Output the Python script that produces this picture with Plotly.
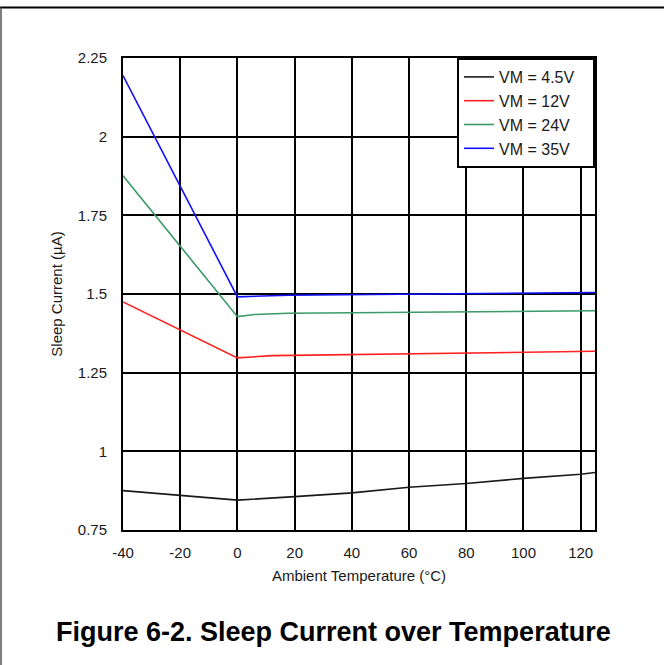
import plotly.graph_objects as go

# ---- data ----
x_ticks = [-40, -20, 0, 20, 40, 60, 80, 100, 120]
x_ticktext = ["-40", "-20", "0", "20", "40", "60", "80", "100", "120"]
y_ticks = [0.75, 1.0, 1.25, 1.5, 1.75, 2.0, 2.25]
y_ticktext = ["0.75", "1", "1.25", "1.5", "1.75", "2", "2.25"]

temp_45 = [-40, -20, 0, 20, 40, 60, 80, 100, 120, 125]
cur_45 = [0.875, 0.861, 0.845, 0.856, 0.868, 0.886, 0.898, 0.914, 0.927, 0.933]

temp_12 = [-40, 0, 12, 55, 105, 125]
cur_12 = [1.475, 1.297, 1.304, 1.309, 1.316, 1.318]

temp_24 = [-40, 0, 6, 18, 105, 125]
cur_24 = [1.876, 1.428, 1.435, 1.439, 1.445, 1.447]

temp_35 = [-40, 0, 18, 105, 125]
cur_35 = [2.194, 1.491, 1.496, 1.503, 1.505]

series = [
    ("VM = 4.5V", temp_45, cur_45, "#1a1a1a"),
    ("VM = 12V", temp_12, cur_12, "#ff2020"),
    ("VM = 24V", temp_24, cur_24, "#3a9a68"),
    ("VM = 35V", temp_35, cur_35, "#1010ff"),
]

FONT = "Liberation Sans, Arial, sans-serif"
TXT = "#1a1a1a"
PAD = "\u00a0\u00a0\u00a0"

fig = go.Figure()
for i, (name, xs, ys, col) in enumerate(series):
    fig.add_trace(go.Scatter(x=xs, y=ys, mode="lines", name=name + PAD,
                             legendgroup=f"g{i}",
                             line=dict(color=col, width=1.6)))

# plot area: x 123..595, y 58..530 (pixels)
L, R, T, B = 123, 595, 58, 530
W, H = 664, 665
pw, ph = R - L, B - T

def px(xp):
    return (xp - L) / pw

def py(yp):
    return (B - yp) / ph

fig.update_layout(
    width=W, height=H,
    margin=dict(l=L, r=W - R, t=T, b=H - B, pad=0),
    paper_bgcolor="white", plot_bgcolor="white",
    font=dict(family=FONT, size=15, color=TXT),
    showlegend=True,
    legend=dict(x=1, y=1, xanchor="right", yanchor="top",
                bgcolor="white", bordercolor="black", borderwidth=2,
                font=dict(family=FONT, size=16, color=TXT),
                tracegroupgap=0),
    annotations=[dict(text="<b>Figure 6-2. Sleep Current over Temperature</b>",
                      xref="paper", yref="paper", x=px(333), y=py(632),
                      xanchor="center", yanchor="middle", showarrow=False,
                      font=dict(family=FONT, size=27, color="black"))],
    shapes=[
        dict(type="line", xref="paper", yref="paper",
             x0=px(0), x1=px(664), y0=py(7.5), y1=py(7.5),
             line=dict(color="black", width=2)),
        dict(type="line", xref="paper", yref="paper",
             x0=px(1), x1=px(1), y0=py(7.5), y1=py(665),
             line=dict(color="#555555", width=1.5)),
    ],
)

fig.update_xaxes(range=[-40, 125], tickvals=x_ticks, ticktext=x_ticktext,
                 showgrid=True, gridcolor="black", gridwidth=2,
                 showline=True, linecolor="black", linewidth=2, mirror=True,
                 zeroline=False, ticks="", ticklabelstandoff=8,
                 tickfont=dict(family=FONT, size=15, color=TXT),
                 title=dict(text="Ambient Temperature (°C)", standoff=10,
                            font=dict(family=FONT, size=15, color=TXT)))
fig.update_yaxes(range=[0.75, 2.25], tickvals=y_ticks, ticktext=y_ticktext,
                 showgrid=True, gridcolor="black", gridwidth=2,
                 showline=True, linecolor="black", linewidth=2, mirror=True,
                 zeroline=False, ticks="", ticklabelstandoff=11,
                 tickfont=dict(family=FONT, size=15, color=TXT),
                 title=dict(text="Sleep Current (µA)", standoff=12,
                            font=dict(family=FONT, size=15, color=TXT)))

fig.write_html("out.html",
               config={"displayModeBar": False},
               post_script="document.body.style.margin='0px';"
                           "document.body.style.overflow='hidden';")
